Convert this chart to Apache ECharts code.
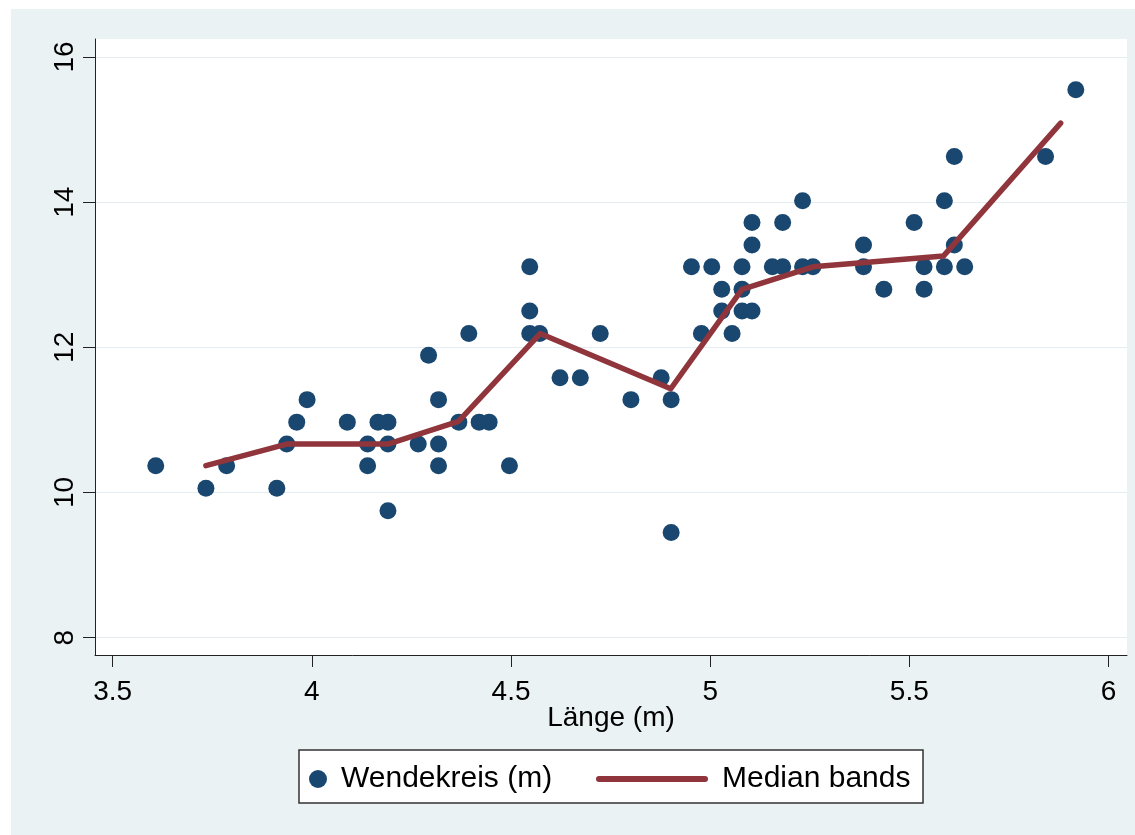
<!DOCTYPE html>
<html>
<head>
<meta charset="utf-8">
<script src="https://cdn.jsdelivr.net/npm/echarts@6/dist/echarts.min.js"></script>
<style>
  html, body { margin: 0; padding: 0; background: #ffffff; }
  #chart { position: absolute; left: 11px; top: 9px; width: 1124px; height: 826px; }
</style>
</head>
<body>
<div id="chart"></div>
<script>
// Fahrzeuglänge (m) und Wendekreis (m) je Modell
const laenge = [
  3.608, 3.734, 3.786, 3.912, 3.937, 3.962, 3.988, 4.089, 4.140, 4.140,
  4.166, 4.191, 4.191, 4.191, 4.267, 4.293, 4.318, 4.318, 4.318, 4.369,
  4.394, 4.420, 4.445, 4.496, 4.547, 4.547, 4.547, 4.572, 4.623, 4.674,
  4.724, 4.801, 4.877, 4.902, 4.902, 4.953, 4.978, 5.004, 5.029, 5.029,
  5.055, 5.080, 5.080, 5.080, 5.105, 5.105, 5.105, 5.156, 5.182, 5.182,
  5.232, 5.232, 5.258, 5.385, 5.385, 5.436, 5.512, 5.537, 5.537, 5.588,
  5.588, 5.613, 5.613, 5.639, 5.842, 5.918
];
const wendekreis = [
  10.37, 10.06, 10.37, 10.06, 10.67, 10.97, 11.28, 10.97, 10.67, 10.37,
  10.97, 10.97, 10.67, 9.75, 10.67, 11.89, 11.28, 10.67, 10.37, 10.97,
  12.19, 10.97, 10.97, 10.37, 13.11, 12.50, 12.19, 12.19, 11.58, 11.58,
  12.19, 11.28, 11.58, 11.28, 9.45, 13.11, 12.19, 13.11, 12.80, 12.50,
  12.19, 13.11, 12.80, 12.50, 13.72, 13.41, 12.50, 13.11, 13.11, 13.72,
  14.02, 13.11, 13.11, 13.41, 13.11, 12.80, 13.72, 13.11, 12.80, 14.02,
  13.11, 14.63, 13.41, 13.11, 14.63, 15.55
];

// Median-Bänder: Median von x und y je Band
const bandX = [3.734, 3.939, 4.193, 4.368, 4.573, 4.901, 5.080, 5.258, 5.586, 5.880];
const bandY = [10.37, 10.67, 10.67, 10.98, 12.19, 11.43, 12.80, 13.11, 13.26, 15.09];

const xTicks = [3.5, 4, 4.5, 5, 5.5, 6];
const yTicks = [8, 10, 12, 14, 16];

const scatterData = laenge.map((x, i) => [x, wendekreis[i]]);
const bandData = bandX.map((x, i) => [x, bandY[i]]);

const FONT = 'Liberation Sans, Arial, sans-serif';
const NAVY = '#1a476f';
const MAROON = '#90353b';
const AXIS = '#222222';

// thick line with rounded ends for the legend key
const LINE_KEY = 'path://M3,0L109,0A3,3,0,0,1,109,6L3,6A3,3,0,0,1,3,0Z';

const chart = echarts.init(document.getElementById('chart'), null, { renderer: 'canvas' });

chart.setOption({
  backgroundColor: '#eaf2f3',
  animation: false,
  textStyle: { fontFamily: FONT },
  grid: {
    left: 84, top: 30, right: 8, bottom: 180,
    show: true, backgroundColor: '#ffffff', borderWidth: 0
  },
  xAxis: {
    type: 'value',
    min: 3.4555, max: 6.0465,
    name: 'Länge (m)',
    nameLocation: 'middle',
    nameGap: 49,
    nameMoveOverlap: false,
    nameTextStyle: { color: '#000', fontSize: 28, fontFamily: FONT },
    axisLine: { show: true, onZero: false, lineStyle: { color: AXIS, width: 1 } },
    axisTick: { show: true, length: 12, lineStyle: { color: AXIS, width: 1 }, customValues: xTicks },
    axisLabel: { color: '#000', fontSize: 28, fontFamily: FONT, margin: 23, customValues: xTicks },
    splitLine: { show: false }
  },
  yAxis: {
    type: 'value',
    min: 7.762, max: 16.248,
    axisLine: { show: true, onZero: false, lineStyle: { color: AXIS, width: 1 } },
    axisTick: { show: true, length: 12, lineStyle: { color: AXIS, width: 1 }, customValues: yTicks },
    axisLabel: { color: '#000', fontSize: 28, fontFamily: FONT, margin: 16, rotate: 90, customValues: yTicks },
    splitLine: { show: true, lineStyle: { color: '#e4edef', width: 1 } }
  },
  graphic: [{
    type: 'rect',
    z: 1,
    shape: { x: 288, y: 741, width: 624, height: 53 },
    style: { fill: '#ffffff', stroke: '#333333', lineWidth: 1.5 }
  }],
  legend: [{
    data: ['Wendekreis (m)'],
    left: 298, top: 755,
    padding: 0,
    icon: 'circle',
    itemWidth: 18, itemHeight: 18,
    selectedMode: false,
    textStyle: { color: '#000', fontSize: 30, fontFamily: FONT, padding: [0, 0, 0, 9] }
  }, {
    data: [{ name: 'Median bands', icon: LINE_KEY }],
    left: 585, top: 755,
    padding: 0,
    itemWidth: 112, itemHeight: 6,
    selectedMode: false,
    textStyle: { color: '#000', fontSize: 30, fontFamily: FONT, padding: [0, 0, 0, 9] }
  }],
  series: [{
    name: 'Wendekreis (m)',
    type: 'scatter',
    data: scatterData,
    symbol: 'circle',
    symbolSize: 17,
    itemStyle: { color: NAVY, opacity: 1 },
    z: 2
  }, {
    name: 'Median bands',
    type: 'line',
    data: bandData,
    symbol: 'none',
    lineStyle: { color: MAROON, width: 5.5, cap: 'round', join: 'round' },
    itemStyle: { color: MAROON },
    z: 3
  }]
});
</script>
</body>
</html>
